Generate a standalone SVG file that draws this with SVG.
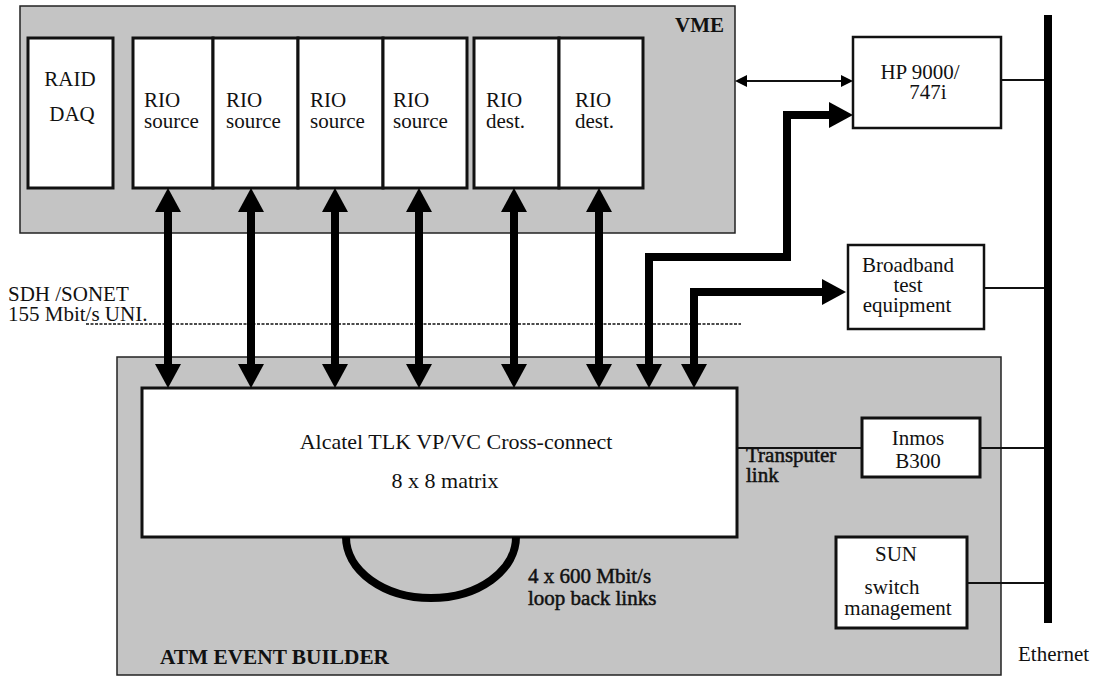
<svg xmlns="http://www.w3.org/2000/svg" width="1100" height="677" viewBox="0 0 1100 677">
<style>
text{font-family:"Liberation Serif","Times New Roman",serif;font-size:21px;fill:#111}
.b{font-weight:bold}
.m{text-anchor:middle}
.smudge{stroke:#111;stroke-width:0.5}
.shade{fill:#c4c4c4;stroke:#222;stroke-width:1.5}
.box{fill:#fff;stroke:#111;stroke-width:3}
.thin{stroke:#111;stroke-width:2;fill:none}
.bold{stroke:#000;stroke-width:8;fill:none;stroke-linejoin:miter}
</style>
<defs>
<marker id="ah" viewBox="0 -13 24 26" refX="0" refY="0" markerWidth="24" markerHeight="26" markerUnits="userSpaceOnUse" orient="auto-start-reverse">
<path d="M0,-13 L24,0 L0,13 z" fill="#000"/>
</marker>
<marker id="as" viewBox="0 -6 12 12" refX="0" refY="0" markerWidth="12" markerHeight="12" markerUnits="userSpaceOnUse" orient="auto-start-reverse">
<path d="M0,-6 L12,0 L0,6 z" fill="#000"/>
</marker>
</defs>

<g id="vme">
<rect class="shade" x="20" y="6" width="715" height="227"/>
<text class="b" x="724" y="32" text-anchor="end">VME</text>
</g>
<g id="atm">
<rect class="shade" x="117" y="357" width="884" height="318"/>
<text class="b" x="160" y="664" textLength="229" lengthAdjust="spacingAndGlyphs">ATM EVENT BUILDER</text>
</g>

<g id="raid">
<rect class="box" x="28" y="38" width="85" height="150"/>
<text class="m" x="70" y="86">RAID</text>
<text class="m" x="72" y="121">DAQ</text>
</g>
<g id="rio1">
<rect class="box" x="133" y="38" width="80" height="150"/>
<text x="144" y="107">RIO</text><text x="144" y="128">source</text>
</g>
<g id="rio2">
<rect class="box" x="213" y="38" width="85" height="150"/>
<text x="226" y="107">RIO</text><text x="226" y="128">source</text>
</g>
<g id="rio3">
<rect class="box" x="298" y="38" width="85" height="150"/>
<text x="310" y="107">RIO</text><text x="310" y="128">source</text>
</g>
<g id="rio4">
<rect class="box" x="383" y="38" width="84" height="150"/>
<text x="393" y="107">RIO</text><text x="393" y="128">source</text>
</g>
<g id="rio5">
<rect class="box" x="474" y="38" width="85" height="150"/>
<text x="486" y="107">RIO</text><text x="486" y="128">dest.</text>
</g>
<g id="rio6">
<rect class="box" x="559" y="38" width="84" height="150"/>
<text x="575" y="107">RIO</text><text x="575" y="128">dest.</text>
</g>

<g id="hp">
<rect class="box" x="853" y="37" width="148" height="91" style="stroke-width:2.5"/>
<text class="m" x="920" y="79">HP 9000/</text>
<text class="m" x="928" y="99">747i</text>
</g>
<g id="broadband">
<rect class="box" x="848" y="245" width="136" height="84" style="stroke-width:2.5"/>
<text class="m" x="908" y="272">Broadband</text>
<text class="m" x="908" y="292">test</text>
<text class="m" x="907" y="312">equipment</text>
</g>
<g id="crossconnect">
<rect class="box" x="142" y="388" width="595" height="149"/>
<text class="m" x="456" y="449" style="font-size:22px">Alcatel TLK VP/VC Cross-connect</text>
<text class="m" x="445" y="488" style="font-size:22px">8 x 8 matrix</text>
</g>
<g id="inmos">
<rect class="box" x="862" y="418" width="118" height="59"/>
<text class="m" x="918" y="445">Inmos</text>
<text class="m" x="918" y="468">B300</text>
</g>
<g id="sun">
<rect class="box" x="836" y="537" width="131" height="91"/>
<text class="m" x="896" y="561">SUN</text>
<text class="m" x="892" y="594">switch</text>
<text class="m" x="898" y="615">management</text>
</g>
<g id="ethernet">
<rect x="1044" y="15" width="8" height="608" fill="#000"/>
<text x="1018" y="661">Ethernet</text>
</g>

<g id="labels">
<text x="8" y="301">SDH /SONET</text>
<text x="8" y="321">155 Mbit/s UNI.</text>
<text class="smudge" x="746" y="462">Transputer</text>
<text class="smudge" x="746" y="482">link</text>
<text class="smudge" x="528" y="583">4 x 600 Mbit/s</text>
<text class="smudge" x="528" y="605">loop back links</text>
</g>

<g id="connectors">
<line x1="86" y1="324" x2="741" y2="324" stroke="#111" stroke-width="1.5" stroke-dasharray="3,1.5"/>
<line class="bold" x1="168" y1="212" x2="168" y2="364" marker-start="url(#ah)" marker-end="url(#ah)"/>
<line class="bold" x1="251" y1="212" x2="251" y2="364" marker-start="url(#ah)" marker-end="url(#ah)"/>
<line class="bold" x1="335" y1="212" x2="335" y2="364" marker-start="url(#ah)" marker-end="url(#ah)"/>
<line class="bold" x1="419" y1="212" x2="419" y2="364" marker-start="url(#ah)" marker-end="url(#ah)"/>
<line class="bold" x1="514" y1="212" x2="514" y2="364" marker-start="url(#ah)" marker-end="url(#ah)"/>
<line class="bold" x1="599" y1="212" x2="599" y2="364" marker-start="url(#ah)" marker-end="url(#ah)"/>
<path class="bold" d="M649,364 L649,257 L787,257 L787,115 L829,115" marker-start="url(#ah)" marker-end="url(#ah)"/>
<path class="bold" d="M694,364 L694,292 L822,292" marker-start="url(#ah)" marker-end="url(#ah)"/>
<line class="thin" x1="747" y1="81" x2="841" y2="81" marker-start="url(#as)" marker-end="url(#as)"/>
<line class="thin" x1="1001" y1="80" x2="1044" y2="80"/>
<line class="thin" x1="984" y1="288" x2="1044" y2="288"/>
<line class="thin" x1="737" y1="448" x2="862" y2="448"/>
<line class="thin" x1="980" y1="448" x2="1044" y2="448"/>
<line class="thin" x1="967" y1="583" x2="1044" y2="583"/>
<path d="M346,537 A85,61 0 0 0 516,537" fill="none" stroke="#000" stroke-width="8"/>
</g>
</svg>
